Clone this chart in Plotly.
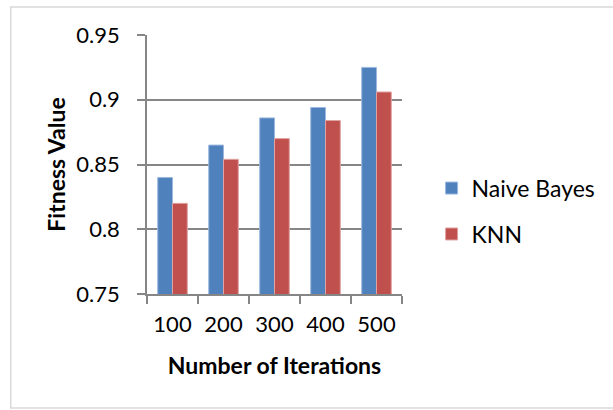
import plotly.graph_objects as go

iterations = ["100", "200", "300", "400", "500"]
naive_bayes = [0.840, 0.865, 0.886, 0.894, 0.925]
knn = [0.820, 0.854, 0.870, 0.884, 0.906]
y_ticks = [0.75, 0.8, 0.85, 0.9, 0.95]
y_tick_text = ["0.75", "0.8", "0.85", "0.9", "0.95"]

FONT = "Lato, Open Sans, sans-serif"
GRID = "#868686"

fig = go.Figure()
fig.add_trace(go.Bar(
    x=iterations, y=naive_bayes, name="Naive Bayes", legendgroup="nb",
    marker=dict(color="#4F81BD", line=dict(color="#9DB8DE", width=1)),
    base=0,
))
fig.add_trace(go.Bar(
    x=iterations, y=knn, name="KNN", legendgroup="knn",
    marker=dict(color="#C0504D", line=dict(color="#E0A3A1", width=1)),
    base=0,
))

fig.update_layout(
    width=613, height=410,
    margin=dict(l=147, r=204, t=35, b=116),
    paper_bgcolor="white", plot_bgcolor="white",
    barmode="group", bargap=0.42, bargroupgap=0,
    font=dict(family=FONT, color="black"),
    showlegend=True,
    legend=dict(
        x=1.116, y=0.32, xanchor="left", yanchor="middle",
        font=dict(family=FONT, size=23, color="black"),
        traceorder="grouped", tracegroupgap=13,
        itemwidth=30, bgcolor="rgba(0,0,0,0)",
    ),
    xaxis=dict(
        type="category", showgrid=False,
        showline=True, linecolor=GRID, linewidth=1.5,
        ticks="outside", tickson="boundaries", ticklen=8, tickwidth=1.5,
        tickcolor=GRID, ticklabelstandoff=10,
        tickfont=dict(family=FONT, size=22, color="black"),
        title=dict(text="<b>Number of Iterations</b>",
                   font=dict(family=FONT, size=23, color="black"), standoff=22),
    ),
    yaxis=dict(
        range=[0.75, 0.95], tickvals=y_ticks, ticktext=y_tick_text,
        showgrid=True, gridcolor=GRID, gridwidth=1.5,
        showline=True, linecolor=GRID, linewidth=1.5,
        ticks="outside", ticklen=8, tickwidth=1.5, tickcolor=GRID,
        ticklabelstandoff=13, zeroline=False,
        tickfont=dict(family=FONT, size=22, color="black"),
        title=dict(text="<b>Fitness Value</b>",
                   font=dict(family=FONT, size=23, color="black"), standoff=4),
    ),
    shapes=[dict(
        type="rect", xref="paper", yref="paper",
        x0=(7 - 147) / 262, x1=(640 - 147) / 262,
        y0=(294 - 408) / 259, y1=(294 - 7) / 259,
        line=dict(color="#D9D9D9", width=1.5), fillcolor="rgba(0,0,0,0)",
        layer="below",
    )],
)

fig.write_html("out.html")
